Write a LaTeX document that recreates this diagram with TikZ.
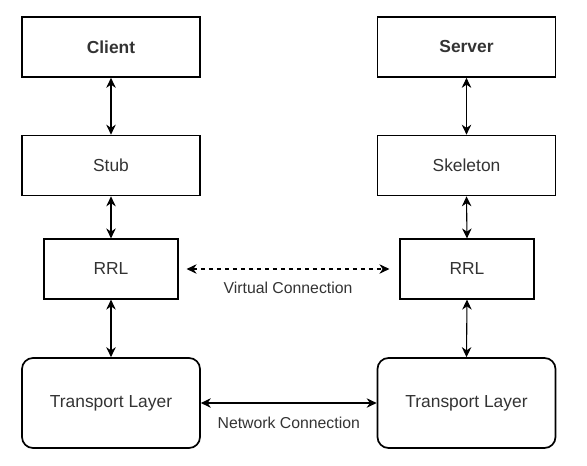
\documentclass[tikz,border=0pt]{standalone}
\usepackage{fontspec}
\setmainfont{Liberation Sans}
\usetikzlibrary{arrows.meta}
\definecolor{txt}{HTML}{333333}
\begin{document}
\begin{tikzpicture}[x=1pt,y=-1pt,
  box/.style={draw=black,line width=1.7pt,minimum width=178pt,minimum height=60pt,inner sep=0pt,font=\fontsize{17.4}{20}\selectfont,text=txt},
  rrlbox/.style={draw=black,line width=1.2pt,minimum width=134pt,minimum height=60pt,inner sep=0pt,font=\fontsize{17.4}{20}\selectfont,text=txt},
  tbox/.style={box,rounded corners=11pt,minimum height=90pt},
  conn/.style={line width=1.1pt,{Stealth[length=10pt,width=9.5pt]}-{Stealth[length=10pt,width=9.5pt]}},
  lbl/.style={font=\fontsize{15.8}{18}\selectfont,text=txt,inner sep=0pt}]
\useasboundingbox (0,0) rectangle (587,466);
\node[box,font=\fontsize{17.4}{20}\selectfont\bfseries] (client) at (111,47) {Client};
\node[box] (stub) at (111,165.5) {Stub};
\node[rrlbox] (rrl1) at (111,269) {RRL};
\node[tbox] (tl1) at (111,403) {Transport Layer};
\node[box,font=\fontsize{17.4}{20}\selectfont\bfseries] (server) at (466.5,47) {Server};
\node[box] (skel) at (466.5,165.5) {Skeleton};
\node[rrlbox] (rrl2) at (467,269) {RRL};
\node[tbox] (tl2) at (466.5,403) {Transport Layer};
\draw[conn] (client.south) -- (stub.north);
\draw[conn] (stub.south) -- (rrl1.north);
\draw[conn] (rrl1.south) -- (tl1.north);
\draw[conn] (server.south) -- (skel.north);
\draw[conn] (skel.south) -- (rrl2.north);
\draw[conn] (rrl2.south) -- (tl2.north);
\draw[conn,dashed,dash pattern=on 4pt off 4pt] ([xshift=8pt]rrl1.east) -- node[lbl,below=12pt] {Virtual Connection} ([xshift=-10pt]rrl2.west);
\draw[conn] (tl1.east) -- node[lbl,below=13pt] {Network Connection} (tl2.west);
\end{tikzpicture}
\end{document}
